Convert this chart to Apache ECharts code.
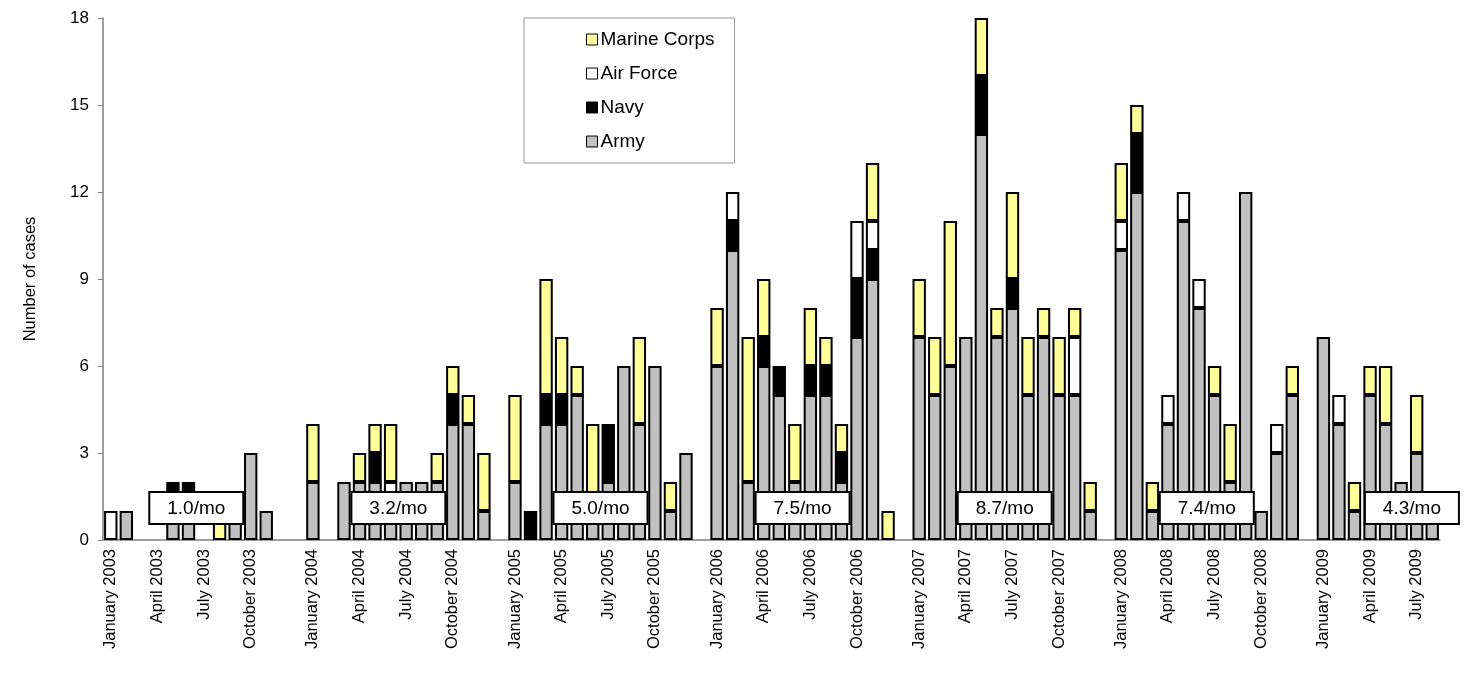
<!DOCTYPE html>
<html><head><meta charset="utf-8">
<script src="https://cdn.jsdelivr.net/npm/echarts@6/dist/echarts.min.js"></script>
<style>html,body{margin:0;padding:0;background:#fff}#c{width:1463px;height:684px}</style>
</head><body><div id="c"></div>
<script>
// categories: each year has 12 months followed by one blank slot (2009: Jan-Aug)
const categories = [
 'January 2003','February 2003','March 2003','April 2003','May 2003','June 2003','July 2003','August 2003','September 2003','October 2003','November 2003','December 2003','',
 'January 2004','February 2004','March 2004','April 2004','May 2004','June 2004','July 2004','August 2004','September 2004','October 2004','November 2004','December 2004','',
 'January 2005','February 2005','March 2005','April 2005','May 2005','June 2005','July 2005','August 2005','September 2005','October 2005','November 2005','December 2005','',
 'January 2006','February 2006','March 2006','April 2006','May 2006','June 2006','July 2006','August 2006','September 2006','October 2006','November 2006','December 2006','',
 'January 2007','February 2007','March 2007','April 2007','May 2007','June 2007','July 2007','August 2007','September 2007','October 2007','November 2007','December 2007','',
 'January 2008','February 2008','March 2008','April 2008','May 2008','June 2008','July 2008','August 2008','September 2008','October 2008','November 2008','December 2008','',
 'January 2009','February 2009','March 2009','April 2009','May 2009','June 2009','July 2009','August 2009'
];
const army = [
 0,1,0,0,1,1,0,0,1,3,1,0,null,
 2,0,2,2,2,1,2,2,2,4,4,1,null,
 2,0,4,4,5,1,2,6,4,6,1,3,null,
 6,10,2,6,5,2,5,5,2,7,9,0,null,
 7,5,6,7,14,7,8,5,7,5,5,1,null,
 10,12,1,4,11,8,5,2,12,1,3,5,null,
 7,4,1,5,4,2,3,1
];
const navy = [
 0,0,0,0,1,1,0,0,0,0,0,0,null,
 0,0,0,0,1,0,0,0,0,1,0,0,null,
 0,1,1,1,0,0,2,0,0,0,0,0,null,
 0,1,0,1,1,0,1,1,1,2,1,0,null,
 0,0,0,0,2,0,1,0,0,0,0,0,null,
 0,2,0,0,0,0,0,0,0,0,0,0,null,
 0,0,0,0,0,0,0,0
];
const airForce = [
 1,0,0,0,0,0,0,0,0,0,0,0,null,
 0,0,0,0,0,1,0,0,0,0,0,0,null,
 0,0,0,0,0,0,0,0,0,0,0,0,null,
 0,1,0,0,0,0,0,0,0,2,1,0,null,
 0,0,0,0,0,0,0,0,0,0,2,0,null,
 1,0,0,1,1,1,0,0,0,0,1,0,null,
 0,1,0,0,0,0,0,0
];
const marineCorps = [
 0,0,0,0,0,0,0,1,0,0,0,0,null,
 2,0,0,1,1,2,0,0,1,1,1,2,null,
 3,0,4,2,1,3,0,0,3,0,1,0,null,
 2,0,5,2,0,2,2,1,1,0,2,1,null,
 2,2,5,0,2,1,3,2,1,2,1,1,null,
 2,1,1,0,0,0,1,2,0,0,0,1,null,
 0,0,1,1,2,0,2,0
];
const rateLabels = ['1.0/mo','3.2/mo','5.0/mo','7.5/mo','8.7/mo','7.4/mo','4.3/mo'];
const rateSlots = [6,19,32,45,58,71,84]; // label box centred at the start of July slot of each year

const chart = echarts.init(document.getElementById('c'));
const font = 'Arial, "Liberation Sans", sans-serif';
function ser(name, data, color){
  return {name, type:'bar', stack:'t', data: data.map(v=>v===0?null:v), barCategoryGap:'14%',
    itemStyle:{color, borderColor:'#000', borderWidth:2}, emphasis:{disabled:true}};
}
chart.setOption({
  animation:false,
  grid:{left:103,right:23,top:18,bottom:144},
  legend:{orient:'vertical',left:524,top:18,width:213,height:124,padding:[12,20,12,62],itemGap:15,
    itemWidth:11,itemHeight:11,icon:'rect',borderColor:'#999',borderWidth:1,
    textStyle:{fontFamily:font,fontSize:19,color:'#000',padding:[0,0,0,-2]},
    data:['Marine Corps','Air Force','Navy','Army'].map(n=>({name:n,itemStyle:{borderColor:'#000',borderWidth:1}}))},
  xAxis:{type:'category',data:categories,
    axisLine:{lineStyle:{color:'#808080',width:1.5}},
    axisTick:{interval:0,length:5,lineStyle:{color:'#000'}},
    axisLabel:{interval:(i)=>{const m=i%13;return m===0||m===3||m===6||m===9;},rotate:90,
      fontFamily:font,fontSize:16.5,color:'#000',margin:9}},
  yAxis:{type:'value',min:0,max:18,interval:3,name:'Number of cases',nameLocation:'middle',nameGap:64,
    nameTextStyle:{fontFamily:font,fontSize:16.5,color:'#000'},
    axisLine:{show:true,lineStyle:{color:'#808080',width:1.5}},
    axisTick:{show:true,length:5,lineStyle:{color:'#808080'}},
    splitLine:{show:false},
    axisLabel:{fontFamily:font,fontSize:17,color:'#000',margin:14}},
  series:[ser('Army',army,'#c0c0c0'),ser('Navy',navy,'#000'),ser('Air Force',airForce,'#fff'),ser('Marine Corps',marineCorps,'#ffff99')]
});
const bw = chart.convertToPixel({xAxisIndex:0},categories[1]) - chart.convertToPixel({xAxisIndex:0},categories[0]);
const y1 = chart.convertToPixel({yAxisIndex:0},1.1);
const g = [];
rateLabels.forEach((t,i)=>{
  const cx = chart.convertToPixel({xAxisIndex:0},categories[rateSlots[i]]) - bw/2 + (i===6?3:0);
  g.push({type:'rect',z:100,zlevel:1,shape:{x:cx-47,y:y1-16,width:94,height:32},style:{fill:'#fff',stroke:'#000',lineWidth:2}});
  g.push({type:'text',z:101,zlevel:1,style:{text:t,x:cx,y:y1+1,align:'center',verticalAlign:'middle',font:'19px '+font,fill:'#000'}});
});
chart.setOption({graphic:g});
</script></body></html>
